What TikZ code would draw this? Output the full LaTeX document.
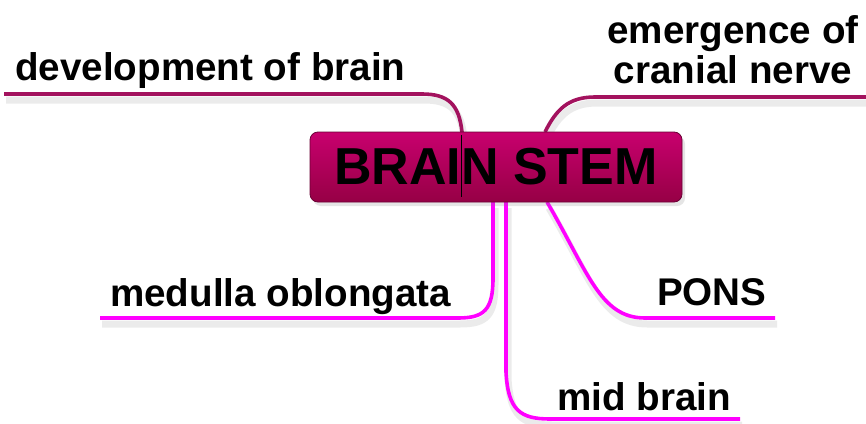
\documentclass[tikz,border=0pt]{standalone}
\usepackage{fontspec}
\setmainfont{Liberation Sans}
\usetikzlibrary{calc,shadows}
\definecolor{stemtop}{HTML}{C8006E}
\definecolor{stembot}{HTML}{960045}
\definecolor{stemedge}{HTML}{6A0035}
\definecolor{darkbranch}{HTML}{A3125E}
\definecolor{brightbranch}{HTML}{FF00FF}
\tikzset{
  stembox/.style={rounded corners=8pt, top color=stemtop, bottom color=stembot,
    draw=stemedge, line width=0.8pt, minimum width=372pt, minimum height=70pt,
    inner sep=0pt, font=\fontsize{52}{56}\selectfont\bfseries,
    drop shadow={shadow xshift=3pt, shadow yshift=-4pt, opacity=0.2}},
  label/.style={inner sep=0pt, font=\fontsize{38.6}{40}\selectfont\bfseries, text=black},
  shade line/.style={preaction={draw=black, opacity=0.08, line width=7pt,
    transform canvas={shift={(2pt,-6pt)}}}},
  branchdark/.style={draw=darkbranch, line width=3.6pt, shade line},
  branchbright/.style={draw=brightbranch, line width=3.6pt, shade line}
}
\begin{document}
\begin{tikzpicture}[x=1pt,y=-1pt]
\useasboundingbox[fill=white] (0,0) rectangle (866,423);
% labels
\node[label, anchor=base west] (dev) at (15,80) {development of brain};
\node[label, anchor=north, align=center] (emer) at (733,15) {emergence of\\cranial nerve};
\node[label, anchor=base west] (med) at (110,306) {medulla oblongata};
\node[label, anchor=base west] (pons) at (657,305) {PONS};
\node[label, anchor=base west] (mid) at (557,410) {mid brain};
% free ends
\coordinate (devend) at (4,94);
\coordinate (emerend) at (866,97);
\coordinate (medend) at (100,318);
\coordinate (ponsend) at (775,318);
\coordinate (midend) at (740,419);
\path (496,167) coordinate (stemc);
% connectors
\draw[branchdark] ($(stemc)+(-34,-35)$) .. controls (459,104) and (448,94) .. (422,94) -- (devend);
\draw[branchdark] ($(stemc)+(49,-35)$) .. controls (556,110) and (568,97) .. (595,97) -- (emerend);
\draw[branchbright] ($(stemc)+(-3,35)$) -- (493,278) .. controls (493,310) and (484,318) .. (458,318) -- (medend);
\draw[branchbright] ($(stemc)+(10,35)$) -- (506,372) .. controls (508,410) and (520,419) .. (550,419) -- (midend);
\draw[branchbright] ($(stemc)+(51,35)$) .. controls (588,272) and (600,318) .. (645,318) -- (ponsend);
% central node
\node[stembox] (stem) at (stemc) {\raisebox{2pt}{BRAIN STEM}};
\draw[black, line width=1pt] ($(stem.north)+(-35,3)$) -- ($(stem.south)+(-35,-5)$);
\end{tikzpicture}
\end{document}
